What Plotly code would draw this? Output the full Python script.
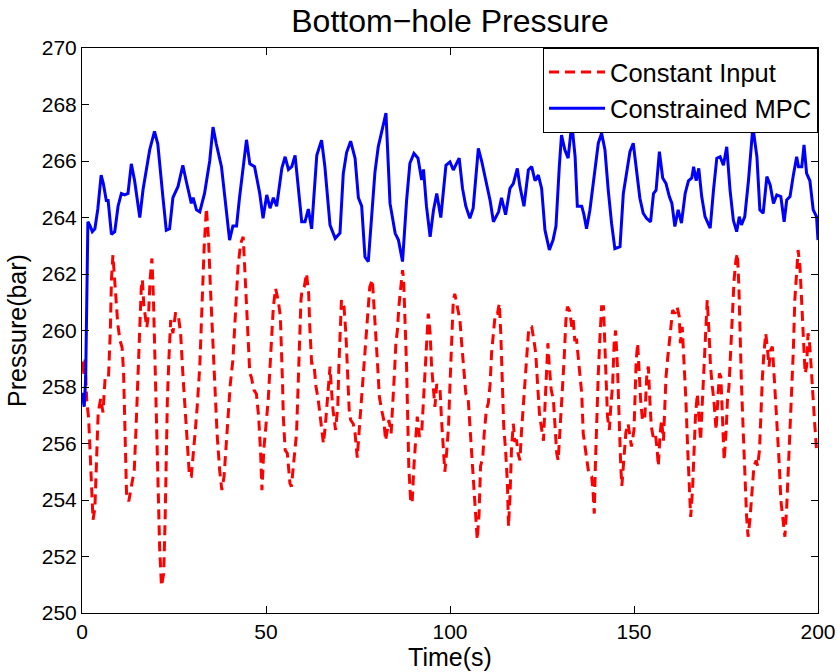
import plotly.graph_objects as go

# Time stamps (s) and bottom-hole pressure (bar) for the constrained MPC run
mpc_time = [0.0, 0.6, 1.0, 1.6, 2.2, 2.8, 3.5, 4.3, 5.2, 5.8, 6.6, 7.1, 8.0, 8.9, 9.8, 10.7, 11.6, 12.5,
            13.4, 14.3, 15.7, 16.6, 17.5, 18.4, 19.7, 20.6, 22.0, 22.9, 23.8, 24.7, 26.1, 27.4, 28.3,
            29.7, 30.2, 31.1, 32.0, 33.3, 34.7, 35.6, 36.5, 37.9, 39.2, 40.1, 41.0, 42.0, 42.8, 43.8,
            44.7, 45.6, 46.9, 48.3, 49.2, 50.2, 51.1, 52.0, 52.9, 54.3, 55.2, 56.1, 57.0, 57.9, 58.8,
            59.7, 60.6, 61.5, 62.4, 63.8, 65.1, 66.0, 67.4, 68.8, 70.1, 71.0, 71.9, 73.0, 74.2, 75.1,
            76.0, 76.9, 77.8, 78.7, 79.6, 80.5, 81.4, 82.6, 83.7, 85.1, 86.0, 87.1, 88.2, 89.1, 90.2,
            91.3, 92.3, 92.8, 93.6, 94.6, 95.5, 96.4, 97.5, 98.9, 100.0, 100.9, 102.5, 103.4, 104.3,
            105.4, 106.3, 107.7, 108.6, 110.0, 110.9, 111.8, 113.2, 114.0, 115.1, 116.3, 117.2, 118.3,
            119.0, 120.1, 121.3, 122.2, 123.1, 124.0, 124.9, 125.8, 127.0, 128.0, 128.8, 129.7, 130.3,
            131.2, 132.1, 133.1, 134.0, 134.6, 135.8, 136.4, 137.1, 138.0, 139.1, 140.3, 141.2, 142.1,
            143.0, 143.9, 144.8, 146.2, 147.1, 148.0, 148.9, 149.8, 150.7, 151.6, 152.5, 153.4, 154.5,
            155.3, 156.0, 156.9, 157.8, 158.7, 159.6, 160.3, 161.1, 162.0, 162.9, 163.9, 164.8, 165.7,
            166.2, 166.9, 167.6, 168.4, 169.3, 170.7, 171.6, 172.5, 173.4, 174.3, 175.2, 176.1, 177.0,
            177.9, 178.6, 179.2, 180.1, 181.1, 182.3, 183.4, 184.2, 185.1, 186.1, 187.0, 187.9, 188.8,
            189.9, 190.8, 191.5, 192.4, 193.3, 194.2, 194.7, 195.6, 196.2, 196.9, 197.8, 198.7, 199.6,
            200.0]
mpc_pressure = [257.8, 257.3, 258.3, 263.85, 263.7, 263.5, 263.6, 264.3, 265.5, 265.2, 264.6, 264.6,
                263.4, 263.5, 264.4, 264.85, 264.8, 264.85, 265.9, 265.3, 264.0, 265.0, 265.7, 266.4,
                267.05, 266.6, 264.7, 263.55, 263.6, 264.7, 265.1, 265.85, 265.3, 264.5, 264.7, 264.27,
                264.2, 264.85, 266.0, 267.2, 266.6, 265.8, 264.27, 263.2, 263.7, 263.7, 264.7, 265.9,
                266.75, 265.9, 265.8, 264.85, 263.97, 264.8, 264.33, 264.7, 264.4, 265.74, 266.15, 265.7,
                265.8, 266.2, 265.0, 263.85, 263.85, 264.3, 263.6, 266.2, 266.74, 265.8, 263.73, 263.26,
                263.45, 265.56, 266.3, 266.7, 266.1, 264.7, 264.4, 262.6, 262.44, 264.03, 265.6, 266.5,
                266.98, 267.7, 264.5, 263.44, 263.2, 262.44, 264.6, 265.92, 266.27, 266.1, 265.33, 265.7,
                264.4, 263.32, 264.25, 264.85, 264.0, 265.85, 265.97, 265.68, 266.1, 265.03, 264.4,
                263.97, 264.33, 266.45, 266.0, 265.15, 264.6, 263.85, 264.2, 264.7, 264.1, 265.03, 265.2,
                265.74, 265.1, 264.4, 265.68, 265.8, 265.3, 265.5, 265.03, 263.56, 262.85, 263.2, 263.7,
                265.8, 266.92, 266.4, 266.1, 267.33, 266.15, 264.4, 264.4, 264.1, 263.6, 264.25, 265.3,
                266.63, 266.98, 266.4, 264.97, 263.8, 262.9, 262.97, 264.85, 265.62, 266.33, 266.63,
                265.62, 264.68, 264.15, 263.97, 263.85, 264.85, 264.97, 266.33, 265.4, 265.2, 264.74,
                264.5, 263.68, 264.27, 263.8, 264.85, 265.3, 265.4, 265.8, 265.3, 265.74, 264.74, 264.03,
                263.62, 264.97, 266.1, 266.15, 265.85, 266.5, 264.97, 263.9, 263.5, 264.03, 263.74,
                264.03, 265.3, 267.21, 266.15, 264.27, 264.15, 265.45, 265.15, 264.5, 264.8, 264.74,
                263.85, 264.62, 264.74, 265.5, 266.15, 265.8, 265.8, 266.57, 265.56, 265.3, 264.27,
                264.03, 263.2]

# Time stamps (s) and bottom-hole pressure (bar) with a constant choke input
const_time = [0.0, 0.4, 0.8, 1.3, 1.8, 2.3, 2.7, 3.0, 3.5, 4.0, 4.4, 5.1, 5.7, 6.3, 7.2, 7.7, 8.0, 8.4,
              9.0, 9.7, 10.3, 10.9, 11.3, 11.6, 11.8, 12.1, 12.7, 13.6, 14.2, 14.7, 15.1, 15.6, 16.1,
              16.4, 16.8, 17.6, 18.1, 18.5, 19.0, 19.4, 19.8, 20.2, 20.6, 21.1, 21.6, 22.2, 22.6, 22.9,
              23.2, 23.6, 24.1, 24.7, 25.4, 26.1, 26.8, 27.4, 28.0, 28.6, 29.2, 29.7, 30.2, 30.8, 31.3,
              32.0, 32.6, 33.2, 33.8, 34.4, 34.9, 35.6, 36.0, 36.7, 37.4, 38.0, 38.6, 39.2, 39.8, 40.3,
              41.0, 41.6, 42.4, 43.1, 43.8, 44.2, 44.7, 45.1, 45.6, 46.0, 46.7, 47.4, 48.0, 48.5, 48.9,
              49.4, 49.8, 50.2, 50.6, 51.1, 51.5, 52.0, 52.6, 53.3, 53.9, 54.3, 54.5, 54.7, 55.2, 55.8,
              56.5, 56.9, 57.4, 57.8, 58.3, 58.6, 58.9, 59.2, 59.5, 59.8, 60.4, 61.0, 61.6, 61.9, 62.4,
              63.0, 63.6, 64.2, 64.8, 65.6, 66.1, 66.5, 66.9, 67.4, 67.8, 68.2, 68.9, 69.5, 69.8, 70.3,
              70.5, 71.2, 71.7, 72.1, 72.6, 73.0, 73.7, 74.2, 74.8, 75.4, 76.0, 76.6, 77.1, 77.8, 78.2,
              78.9, 79.3, 79.8, 80.3, 80.8, 81.4, 82.0, 82.5, 83.0, 83.4, 84.0, 84.4, 84.9, 85.3, 85.7,
              86.1, 86.6, 87.1, 87.4, 87.8, 88.2, 88.5, 88.8, 89.3, 89.7, 90.2, 90.7, 91.1, 91.7, 92.3,
              92.8, 93.2, 93.7, 94.1, 94.6, 95.0, 95.5, 95.9, 96.4, 96.8, 97.3, 97.7, 98.2, 98.6, 99.1,
              99.6, 100.0, 100.4, 100.9, 101.3, 101.9, 102.7, 103.1, 103.5, 104.3, 104.9, 105.5, 106.1,
              106.5, 107.0, 107.4, 107.9, 108.3, 108.9, 109.3, 109.9, 110.4, 110.9, 111.3, 111.8, 112.3,
              112.9, 113.4, 113.8, 114.3, 114.6, 115.1, 115.6, 115.9, 116.3, 116.7, 117.2, 117.6, 118.1,
              118.5, 119.0, 119.4, 119.9, 120.4, 120.8, 121.3, 121.7, 122.2, 122.8, 123.3, 123.8, 124.3,
              124.8, 125.4, 125.8, 126.3, 126.6, 127.0, 127.5, 128.1, 128.5, 129.0, 129.4, 129.9, 130.5,
              131.0, 131.5, 131.9, 132.5, 133.1, 133.5, 133.9, 134.4, 134.9, 135.3, 135.8, 136.2, 136.7,
              137.1, 137.7, 138.5, 138.9, 139.2, 139.5, 139.9, 140.3, 140.8, 141.2, 141.7, 142.1, 142.4,
              142.8, 143.3, 143.7, 144.2, 144.6, 145.0, 145.5, 145.9, 146.4, 146.7, 147.3, 147.8, 148.4,
              149.3, 150.0, 150.3, 150.6, 151.0, 151.3, 151.8, 152.3, 152.9, 153.5, 153.9, 154.3, 154.7,
              155.2, 155.8, 156.3, 156.6, 157.1, 157.5, 158.0, 158.3, 158.7, 159.1, 159.6, 160.1, 160.5,
              161.1, 161.7, 162.3, 162.6, 163.1, 163.6, 164.1, 164.6, 165.0, 165.4, 165.9, 166.3, 166.7,
              167.2, 167.6, 168.1, 168.6, 169.0, 169.4, 169.9, 170.4, 170.8, 171.3, 171.7, 172.3, 172.7,
              173.2, 173.6, 174.1, 174.5, 175.0, 175.4, 175.8, 176.3, 176.7, 177.2, 177.7, 178.1, 178.5,
              178.8, 179.2, 179.7, 180.2, 180.6, 181.0, 181.5, 182.1, 182.6, 183.2, 183.6, 184.1, 184.4,
              184.9, 185.3, 185.8, 186.2, 186.7, 187.1, 187.6, 188.1, 188.6, 189.0, 189.5, 189.9, 190.5,
              191.0, 191.5, 191.9, 192.4, 192.8, 193.3, 193.7, 194.2, 194.6, 195.1, 195.5, 195.9, 196.5,
              196.9, 197.3, 197.8, 198.2, 198.7, 199.1, 199.6, 200.0]
const_pressure = [258.9, 258.4, 259.0, 257.5, 256.9, 255.5, 254.3, 253.3, 253.7, 255.6, 257.1, 257.6,
                  257.1, 258.35, 258.35, 260.0, 261.8, 262.67, 261.4, 260.26, 259.66, 259.4, 258.5, 257.1,
                  255.3, 254.24, 253.95, 254.6, 255.06, 256.6, 258.1, 259.66, 261.5, 261.8, 260.9, 260.1,
                  260.6, 261.8, 262.55, 261.2, 259.0, 256.5, 254.2, 252.3, 250.95, 251.4, 253.4, 255.77,
                  257.54, 258.95, 260.37, 259.9, 260.6, 260.6, 259.9, 258.48, 257.3, 256.0, 254.83, 254.83,
                  255.5, 256.48, 257.3, 258.72, 260.84, 262.97, 264.33, 263.2, 261.5, 259.66, 258.1, 256.36,
                  255.06, 254.35, 254.83, 256.0, 256.95, 258.1, 258.95, 260.6, 262.26, 263.08, 263.32,
                  262.26, 261.08, 259.9, 258.48, 258.36, 257.9, 257.75, 256.95, 255.77, 254.35, 255.77,
                  256.48, 256.95, 257.54, 258.72, 259.9, 260.84, 261.49, 261.08, 260.5, 259.3, 258.1,
                  256.95, 255.77, 255.65, 254.59, 254.47, 255.2, 255.5, 256.36, 257.54, 258.95, 260.13,
                  261.08, 261.43, 261.55, 262.02, 261.3, 260.13, 258.84, 258.84, 258.0, 257.54, 256.83,
                  256.0, 256.6, 257.3, 258.1, 258.72, 257.9, 257.2, 256.48, 257.3, 258.72, 260.13, 261.08,
                  260.84, 259.9, 258.72, 257.2, 256.83, 256.7, 256.36, 255.5, 256.6, 257.66, 258.72,
                  259.66, 260.84, 261.55, 261.8, 261.08, 259.9, 258.84, 257.66, 257.2, 256.83, 256.1,
                  256.48, 256.83, 256.36, 257.54, 258.48, 259.55, 260.0, 260.84, 261.55, 262.14, 261.8,
                  260.5, 258.72, 256.95, 255.2, 254.0, 253.88, 255.2, 256.36, 256.95, 256.24, 256.36,
                  257.54, 258.72, 259.66, 260.6, 259.9, 258.72, 257.9, 257.3, 258.1, 258.0, 257.9, 256.83,
                  255.77, 255.0, 255.7, 256.6, 258.1, 259.66, 261.08, 261.3, 260.84, 260.37, 259.66,
                  258.95, 257.76, 257.66, 256.48, 255.2, 254.47, 253.4, 252.6, 253.5, 255.2, 255.5, 256.36,
                  257.2, 257.42, 258.1, 259.2, 259.9, 260.6, 260.6, 260.96, 259.9, 258.1, 256.6, 255.77,
                  254.59, 253.06, 254.1, 255.77, 256.7, 256.1, 256.1, 255.65, 255.4, 256.36, 257.3, 258.1,
                  259.2, 259.9, 260.13, 260.13, 259.66, 259.2, 258.1, 257.07, 256.6, 256.1, 257.3, 258.72,
                  259.55, 258.72, 257.9, 257.54, 256.83, 255.65, 255.4, 256.48, 257.54, 258.95, 260.37,
                  260.84, 260.7, 260.13, 260.37, 259.66, 259.66, 258.95, 258.6, 257.76, 256.36, 255.77,
                  255.5, 254.95, 254.83, 254.24, 253.52, 255.2, 256.95, 258.48, 259.9, 260.84, 260.84,
                  259.66, 258.36, 256.95, 256.48, 257.3, 258.1, 259.55, 260.0, 258.72, 256.95, 255.2,
                  254.5, 255.6, 256.4, 256.7, 255.89, 256.48, 257.54, 258.95, 259.55, 258.72, 257.54,
                  256.83, 256.83, 258.48, 258.72, 257.54, 256.6, 256.24, 256.36, 255.77, 255.2, 256.36,
                  256.83, 256.1, 257.2, 258.36, 258.95, 259.66, 260.37, 260.72, 260.6, 260.84, 260.5,
                  259.55, 260.13, 258.95, 257.54, 255.77, 254.47, 253.4, 254.35, 255.77, 256.95, 257.76,
                  256.83, 256.1, 257.54, 258.72, 259.66, 261.08, 259.9, 258.72, 258.0, 257.54, 256.48,
                  257.54, 258.48, 258.36, 256.95, 255.4, 256.36, 257.54, 258.0, 259.2, 260.6, 261.8, 262.5,
                  262.73, 261.55, 259.9, 258.1, 256.36, 254.59, 253.4, 252.7, 253.3, 254.35, 255.2, 255.4,
                  255.2, 255.77, 256.95, 258.36, 259.2, 259.9, 259.43, 258.72, 259.3, 259.43, 258.36,
                  257.3, 256.36, 255.2, 254.0, 253.17, 252.7, 253.76, 254.95, 256.36, 257.76, 259.3,
                  261.08, 262.26, 262.85, 262.26, 261.08, 259.66, 258.48, 258.72, 259.9, 259.43, 258.72,
                  257.54, 256.7, 255.77, 255.77]

x_ticks = [0, 50, 100, 150, 200]
y_ticks = [250, 252, 254, 256, 258, 260, 262, 264, 266, 268, 270]

FONT = "Liberation Sans, Arial, Helvetica, sans-serif"

fig = go.Figure()
fig.add_trace(go.Scatter(
    x=const_time, y=const_pressure, mode="lines", name="Constant Input",
    line=dict(color="#FF0000", width=3, dash="10px,6px"),
))
fig.add_trace(go.Scatter(
    x=mpc_time, y=mpc_pressure, mode="lines", name="Constrained MPC",
    line=dict(color="#0000FF", width=3),
))

axis_common = dict(
    showline=True, linecolor="black", linewidth=1, mirror="ticks",
    ticks="inside", ticklen=7, tickcolor="black", tickwidth=1,
    showgrid=False, zeroline=False, automargin=False,
    tickfont=dict(family=FONT, size=21, color="black"),
)

fig.update_layout(
    width=837, height=672,
    margin=dict(l=82, r=19, t=48, b=59),
    paper_bgcolor="white", plot_bgcolor="white",
    font=dict(family=FONT, color="black"),
    title=dict(text="Bottom\u2212hole Pressure", x=0.5, xref="paper", xanchor="center",
               y=1 - 21 / 672, yref="container", yanchor="middle",
               font=dict(family=FONT, size=32, color="black")),
    xaxis=dict(range=[0, 200], tickvals=x_ticks,
               title=dict(text="Time(s)", font=dict(family=FONT, size=25), standoff=4),
               **axis_common),
    yaxis=dict(range=[250, 270], tickvals=y_ticks,
               title=dict(text="Pressure(bar)", font=dict(family=FONT, size=25), standoff=8),
               **axis_common),
    legend=dict(x=1, y=1, xanchor="right", yanchor="top",
                bgcolor="white", bordercolor="black", borderwidth=1,
                font=dict(family=FONT, size=25.5, color="black"),
                tracegroupgap=0, itemwidth=56),
    showlegend=True,
)

fig.write_html("out.html")
